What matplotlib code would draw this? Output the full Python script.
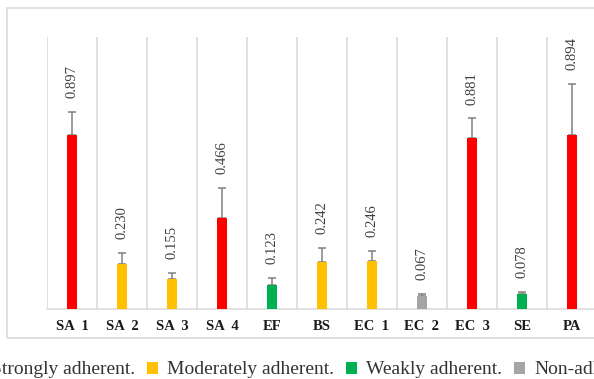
import matplotlib
matplotlib.use("Agg")
import matplotlib.pyplot as plt
import matplotlib.patches as mpatches
import numpy as np

# Adherence (OD) per isolate with standard deviation
categories = ["SA 1", "SA 2", "SA 3", "SA 4", "EF", "BS", "EC 1", "EC 2", "EC 3", "SE", "PA"]
values = [0.897, 0.230, 0.155, 0.466, 0.123, 0.242, 0.246, 0.067, 0.881, 0.078, 0.894]
errors = [0.119, 0.059, 0.031, 0.155, 0.038, 0.070, 0.053, 0.010, 0.100, 0.011, 0.266]
groups = ["strong", "moderate", "moderate", "strong", "weak", "moderate", "moderate",
          "none", "strong", "weak", "strong"]

group_names = ["strong", "moderate", "weak", "none"]
group_labels = ["Strongly adherent.", "Moderately adherent.", "Weakly adherent.", "Non-adherent."]
group_colors = {"strong": "#FF0000", "moderate": "#FFC000", "weak": "#00B050", "none": "#A5A5A5"}

W, H = 594, 379
plt.rcParams["font.family"] = ["Liberation Serif", "DejaVu Serif"]

fig = plt.figure(figsize=(W / 100, H / 100), dpi=100)
fig.patch.set_facecolor("white")

# outer chart frame
frame = mpatches.Rectangle((7 / W, (H - 338) / H), 700 / W, 330 / H,
                           transform=fig.transFigure, fill=False,
                           edgecolor="#d9d9d9", linewidth=1.2, zorder=0)
fig.patches.append(frame)

# plot area in pixel geometry
left, right, top, bottom = 47, 597, 37, 309
ax = fig.add_axes([left / W, (H - bottom) / H, (right - left) / W, (bottom - top) / H])

x = np.arange(len(categories))
colors = [group_colors[g] for g in groups]
# plus-only error bars sit behind the bars so only the upper part shows
ax.errorbar(x, values, yerr=[np.zeros(len(errors)), errors], fmt="none",
            ecolor="#808080", elinewidth=1.1, capsize=3, capthick=1.1, zorder=2)
ax.bar(x, values, width=0.19, color=colors, zorder=3)

for xi, v, e in zip(x, values, errors):
    ax.annotate(f"{v:.3f}", (xi, v + e), xytext=(0, 10), textcoords="offset points",
                rotation=90, ha="center", va="bottom", fontsize=10.5, color="#404040")

ax.set_xlim(-0.5, len(categories) - 0.5)
ax.set_ylim(0, 1.4)
ax.set_yticks([])
ax.set_xticks(x)
ax.set_xticklabels([c.replace(" ", "  ") for c in categories],
                   fontsize=10.5, fontweight="bold", color="#1a1a1a")
ax.tick_params(axis="x", length=0, pad=8)
ax.set_xticks(np.arange(-0.5, len(categories)), minor=True)
ax.tick_params(axis="x", which="minor", length=0)
ax.grid(axis="x", which="minor", color="#d9d9d9", linewidth=1.1, zorder=0)
for s in ["top", "left", "right"]:
    ax.spines[s].set_visible(False)
ax.spines["bottom"].set_color("#d9d9d9")
ax.spines["bottom"].set_linewidth(1.1)

handles = [mpatches.Patch(facecolor=group_colors[g], edgecolor="none") for g in group_names]
leg_y = (H - 370) / H
leg = fig.legend(handles, group_labels, ncol=4, loc="center left",
                 bbox_to_anchor=(0, leg_y), frameon=False, fontsize=14,
                 handlelength=0.57, handleheight=0.57, handletextpad=0.46,
                 columnspacing=0.62, borderpad=0, borderaxespad=0)
for t in leg.get_texts():
    t.set_color("#333333")

# align the legend so the second swatch sits at its place under the chart
fig.canvas.draw()
r = fig.canvas.get_renderer()
bb = leg.legend_handles[1].get_window_extent(r)
dx = 147 - bb.x0
leg.set_bbox_to_anchor((dx / W, leg_y), transform=fig.transFigure)

fig.savefig("out.png", dpi=100)
